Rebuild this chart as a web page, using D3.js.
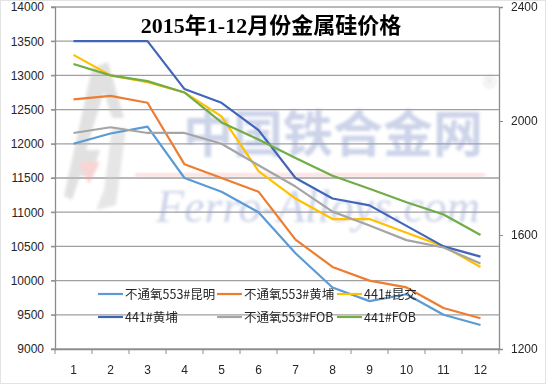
<!DOCTYPE html>
<html>
<head>
<meta charset="utf-8">
<script src="https://cdn.jsdelivr.net/npm/d3@7/dist/d3.min.js"></script>
<style>
    body { margin: 0; background: #fff; }
    svg { display: block; }
    text { font-family: "Liberation Sans", Arial, sans-serif; }
</style>
</head>
<body>
<div id="chart-area"></div>
<script>
// data
const months = ["1", "2", "3", "4", "5", "6", "7", "8", "9", "10", "11", "12"];
const kunming553 = [12000, 12150, 12250, 11500, 11300, 11000, 10400, 9900, 9700, 9800, 9500, 9350];
const huangpu553 = [12650, 12700, 12600, 11700, 11500, 11300, 10600, 10200, 10000, 9900, 9600, 9450];
const kunjiao441 = [13300, 13000, 12900, 12750, 12400, 11600, 11200, 10900, 10900, 10700, 10500, 10200];
const huangpu441 = [13500, 13500, 13500, 12800, 12600, 12200, 11500, 11200, 11100, 10800, 10500, 10350];
const fob553 = [1958, 1978, 1958, 1958, 1920, 1845, 1770, 1682, 1633, 1582, 1556, 1500];
const fob441 = [2200, 2160, 2140, 2100, 1995, 1935, 1870, 1808, 1762, 1715, 1672, 1600];
const leftTicks = [9000, 9500, 10000, 10500, 11000, 11500, 12000, 12500, 13000, 13500, 14000];
const rightTicks = [1200, 1600, 2000, 2400];
const seriesNames = ["不通氧553#昆明", "不通氧553#黄埔", "441#昆交", "441#黄埔", "不通氧553#FOB", "441#FOB"];

const series = [
    { name: seriesNames[0], values: kunming553, axis: "left", color: "#5b9bd5" },
    { name: seriesNames[1], values: huangpu553, axis: "left", color: "#ed7d31" },
    { name: seriesNames[2], values: kunjiao441, axis: "left", color: "#ffc000" },
    { name: seriesNames[3], values: huangpu441, axis: "left", color: "#4166b8" },
    { name: seriesNames[4], values: fob553, axis: "right", color: "#a5a5a5" },
    { name: seriesNames[5], values: fob441, axis: "right", color: "#70ad47" }
];

const margin = { left: 55, right: 49, top: 7, bottom: 37 };
const width = 548 - margin.left - margin.right;
const height = 386 - margin.top - margin.bottom;

const svg = d3.select("#chart-area")
    .append("svg")
    .attr("width", 548)
    .attr("height", 386);

// faint frame round the chart, like the sheet behind it
svg.append("rect")
    .attr("x", 0.5).attr("y", 0.5)
    .attr("width", 545).attr("height", 383)
    .attr("fill", "none")
    .attr("stroke", "#e3e3e3");

const g = svg.append("g")
    .attr("transform", "translate(" + margin.left + ", " + margin.top + ")");

const x = d3.scaleBand()
    .domain(months)
    .range([0, width]);
const yLeft = d3.scaleLinear()
    .domain([9000, 14000])
    .range([height, 0]);
const yRight = d3.scaleLinear()
    .domain([1200, 2400])
    .range([height, 0]);

// gridlines
g.append("g")
    .selectAll("line")
    .data(leftTicks)
    .enter()
    .append("line")
    .attr("x1", -4)
    .attr("x2", width)
    .attr("y1", d => yLeft(d))
    .attr("y2", d => yLeft(d))
    .attr("stroke", "#a0a0a0")
    .attr("stroke-width", 1.3);

// watermark
const wm = g.append("g")
    .attr("opacity", 0.45)
    .attr("transform", "translate(" + (-margin.left) + ", " + (-margin.top) + ")");
svg.append("defs").append("filter")
    .attr("id", "soft")
    .append("feGaussianBlur")
    .attr("stdDeviation", 1.4);
wm.append("path")
    .attr("d", "M92,68 L108,62 L124,118 L112,118 L104,92 L86,150 L100,150 L92,176 L80,176 L72,200 L64,196 Z")
    .attr("fill", "#bdbdbd")
    .attr("filter", "url(#soft)");
wm.append("path")
    .attr("d", "M112,128 L126,128 L116,205 L96,210 L104,190 Z")
    .attr("fill", "#c8c8c8")
    .attr("filter", "url(#soft)");
wm.append("path")
    .attr("d", "M78,162 L100,162 L89,184 Z")
    .attr("fill", "#f0a0a0")
    .attr("filter", "url(#soft)");
wm.append("rect")
    .attr("x", 135).attr("y", 173)
    .attr("width", 350).attr("height", 4)
    .attr("fill", "#f4b8b8")
    .attr("filter", "url(#soft)");
wm.append("text")
    .attr("x", 333)
    .attr("y", 152)
    .attr("text-anchor", "middle")
    .attr("font-size", "50px")
    .attr("font-weight", "bold")
    .style("font-family", "'Noto Sans CJK SC'")
    .attr("fill", "#8f9fcf")
    .attr("filter", "url(#soft)")
    .text("中国铁合金网");
wm.append("text")
    .attr("x", 318)
    .attr("y", 222)
    .attr("text-anchor", "middle")
    .attr("font-size", "46px")
    .attr("font-style", "italic")
    .style("font-family", "'Liberation Serif'")
    .attr("fill", "#8f9fcf")
    .attr("filter", "url(#soft)")
    .text("Ferro-Alloys.com");
wm.append("text")
    .attr("x", 483)
    .attr("y", 88)
    .attr("font-size", "18px")
    .attr("fill", "#b0b0b0")
    .attr("filter", "url(#soft)")
    .text("®");

// left axis
const yLeftCall = d3.axisLeft(yLeft)
    .tickValues(leftTicks)
    .tickSize(4)
    .tickPadding(7)
    .tickFormat(d3.format("d"));
const leftAxis = g.append("g")
    .attr("class", "y-axis")
    .call(yLeftCall);

// right axis
const yRightCall = d3.axisRight(yRight)
    .tickValues(rightTicks)
    .tickSize(4)
    .tickPadding(8)
    .tickFormat(d3.format("d"));
const rightAxis = g.append("g")
    .attr("class", "y-axis-right")
    .attr("transform", "translate(" + width + ", 0)")
    .call(yRightCall);

// bottom axis: labels centred, ticks between categories
const xAxisCall = d3.axisBottom(x)
    .tickSize(0)
    .tickPadding(16);
const bottomAxis = g.append("g")
    .attr("class", "x axis")
    .attr("transform", "translate(0, " + height + ")")
    .call(xAxisCall);
bottomAxis.selectAll(".tickmark")
    .data(months.concat(["end"]))
    .enter()
    .append("line")
    .attr("class", "tickmark")
    .attr("x1", (d, i) => i * x.step())
    .attr("x2", (d, i) => i * x.step())
    .attr("y1", 0)
    .attr("y2", 5)
    .attr("stroke", "#8c8c8c");

[leftAxis, rightAxis, bottomAxis].forEach(a => {
    a.selectAll(".domain").attr("stroke", "#8c8c8c").attr("stroke-width", 1.3);
    a.selectAll(".tick line").attr("stroke", "#8c8c8c");
    a.selectAll("text")
        .attr("font-size", "12px")
        .attr("fill", "#262626")
        .style("font-family", "'Liberation Sans'");
});

// lines
const makeLine = s => d3.line()
    .x((d, i) => x(months[i]) + x.bandwidth() / 2)
    .y(d => (s.axis === "left" ? yLeft(d) : yRight(d)));

g.selectAll(".series")
    .data(series)
    .enter()
    .append("path")
    .attr("class", "series")
    .attr("fill", "none")
    .attr("stroke", d => d.color)
    .attr("stroke-width", 2.2)
    .attr("stroke-linejoin", "round")
    .attr("d", d => makeLine(d)(d.values));

// legend
const legendCols = [98, 217, 337];
const legendRows = [294, 317];
const legend = svg.append("g")
    .selectAll("g")
    .data(series)
    .enter()
    .append("g")
    .attr("transform", (d, i) => "translate(" + legendCols[i % 3] + ", " + legendRows[Math.floor(i / 3)] + ")");
legend.append("line")
    .attr("x1", 0)
    .attr("x2", 25)
    .attr("stroke", d => d.color)
    .attr("stroke-width", 2.2);
legend.append("text")
    .attr("x", 27)
    .attr("dy", "0.36em")
    .attr("font-size", "12.5px")
    .attr("fill", "#262626")
    .style("font-family", "'Noto Sans CJK SC'")
    .text(d => d.name);

// title
svg.append("text")
    .attr("x", 271)
    .attr("y", 33)
    .attr("text-anchor", "middle")
    .attr("font-size", "22px")
    .attr("font-weight", "bold")
    .style("font-family", "'Liberation Serif', 'Noto Sans CJK SC'")
    .attr("fill", "#000")
    .text("2015年1-12月份金属硅价格");
</script>
</body>
</html>
